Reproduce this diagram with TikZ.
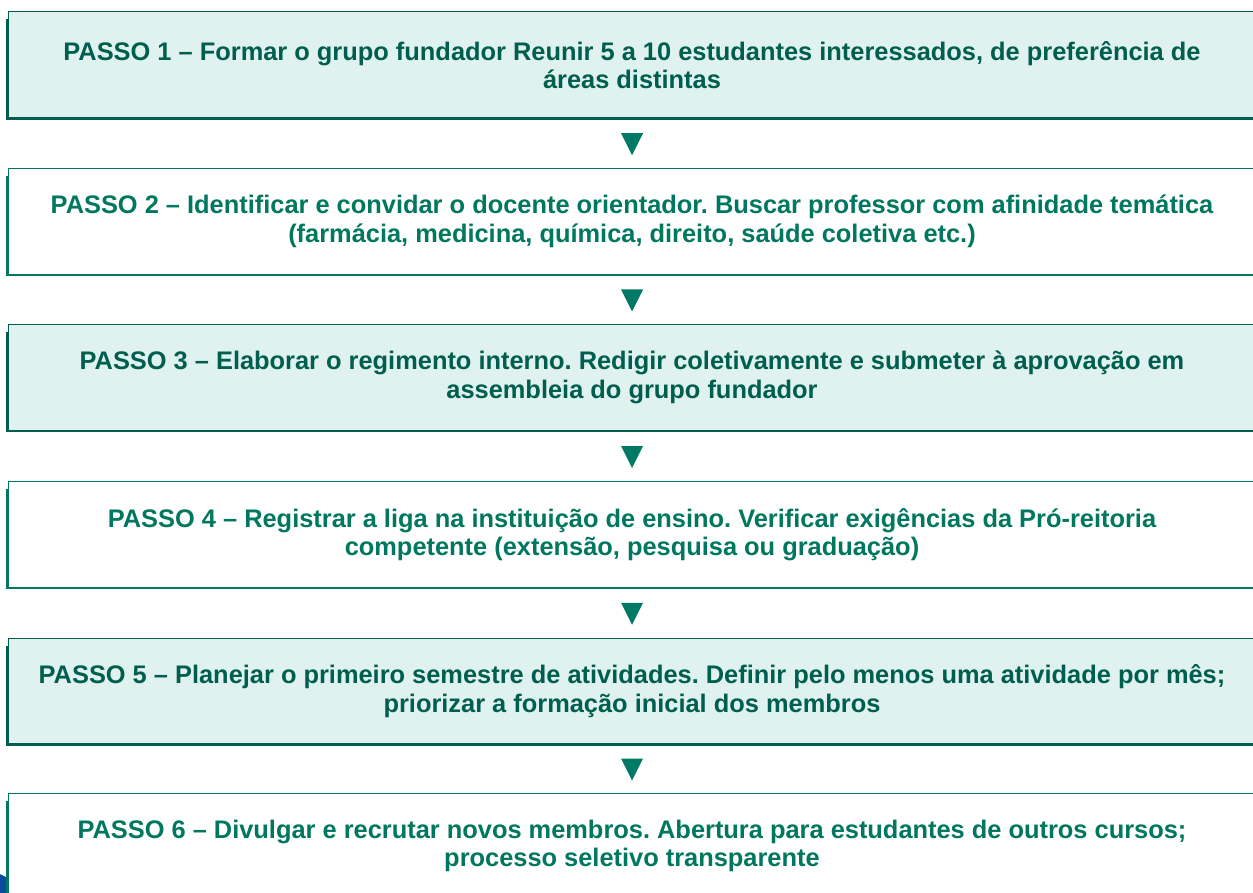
\documentclass[tikz,border=0pt]{standalone}
\usepackage{fontspec}
\setmainfont{Liberation Sans}
\usepackage{tikz}
\usetikzlibrary{calc}
\frenchspacing

\definecolor{verdeescuro}{HTML}{005E4E}
\definecolor{verdeclaro}{HTML}{00775F}
\definecolor{fundo}{HTML}{E0F2F0}
\definecolor{seta}{HTML}{007A66}
\definecolor{azul}{HTML}{0B4A9C}

\tikzset{
  passo/.style={draw, line width=0.5pt, minimum width=624pt, minimum height=53pt,
    inner sep=0pt, align=center, font=\bfseries\fontsize{12.7}{14.2}\selectfont},
  cheio/.style={passo, fill=fundo, draw=verdeescuro, text=verdeescuro},
  vazio/.style={passo, fill=white, draw=verdeclaro, text=verdeclaro},
}

\begin{document}
\begin{tikzpicture}[x=0.5pt, y=-0.5pt]
\useasboundingbox (0,0) rectangle (1253,893);
\fill[azul] (-12,906) circle (17pt);
\node[cheio] (p1) at (632,65) {PASSO 1 -- Formar o grupo fundador Reunir 5 a 10 estudantes interessados, de preferência de\\ áreas distintas};
\node[vazio] (p2) at (632,221.5) {PASSO 2 -- Identificar e convidar o docente orientador. Buscar professor com afinidade temática\\ (farmácia, medicina, química, direito, saúde coletiva etc.)};
\node[cheio] (p3) at (632,377.5) {PASSO 3 -- Elaborar o regimento interno. Redigir coletivamente e submeter à aprovação em\\ assembleia do grupo fundador};
\node[vazio] (p4) at (632,534.5) {PASSO 4 -- Registrar a liga na instituição de ensino. Verificar exigências da Pró-reitoria\\ competente (extensão, pesquisa ou graduação)};
\node[cheio] (p5) at (632,691) {PASSO 5 -- Planejar o primeiro semestre de atividades. Definir pelo menos uma atividade por mês;\\ priorizar a formação inicial dos membros};
\node[vazio] (p6) at (632,846) {PASSO 6 -- Divulgar e recrutar novos membros. Abertura para estudantes de outros cursos;\\ processo seletivo transparente};
% bordas grossas a esquerda e embaixo
\foreach \p/\c in {p1/verdeescuro,p2/verdeclaro,p3/verdeescuro,p4/verdeclaro,p5/verdeescuro,p6/verdeclaro}
  \draw[\c, line width=1.2pt] ([yshift=-4pt]\p.north west) -- (\p.south west) -- (\p.south east);
% setas entre os passos
\foreach \a/\b in {p1/p2,p2/p3,p3/p4,p4/p5,p5/p6}
  \fill[seta] ($(\a.south)!0.5!(\b.north)$) +(-11,-10) -- +(11,-10) -- +(0,12) -- cycle;
\end{tikzpicture}
\end{document}
